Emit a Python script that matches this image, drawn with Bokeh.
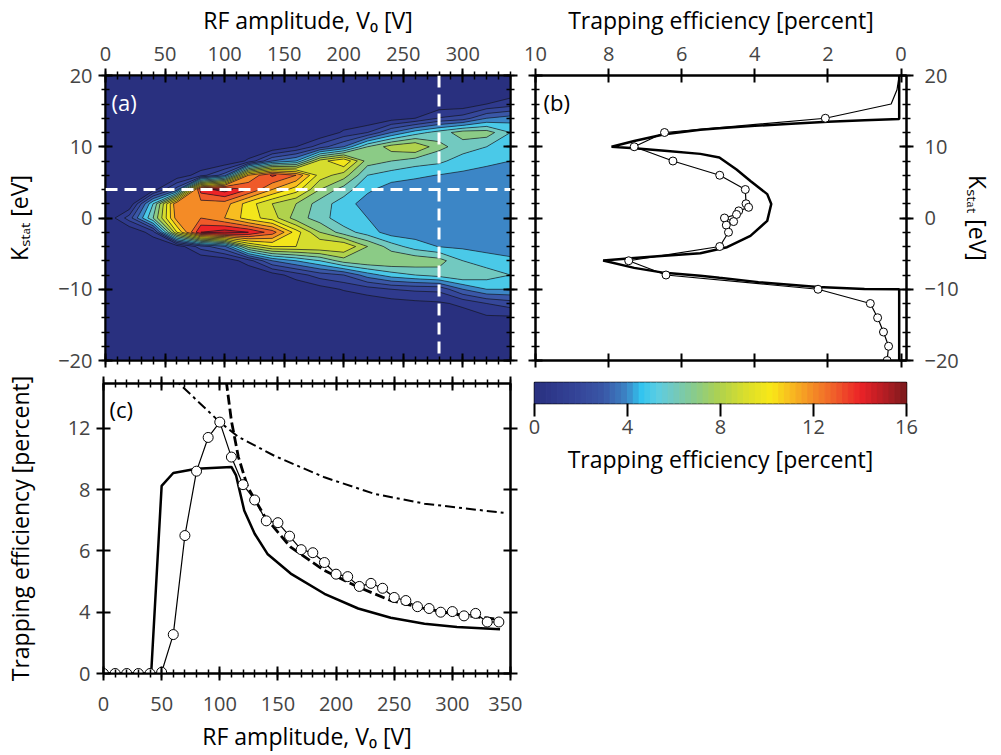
import numpy as np
from bokeh.plotting import figure
from bokeh.models import Range1d, LinearAxis, FixedTicker, Label, Span
from bokeh.layouts import column, row
from bokeh.embed import file_html
from bokeh.resources import INLINE

FONT = "Open Sans"

# ---------------- panel (a): trapping efficiency map [percent] ----------------
rf_grid = [0, 20, 40, 60, 80, 100, 120, 140, 160, 180, 200, 220, 240, 260, 280, 300, 320, 340]
k_grid = [20, 18, 16, 14, 12, 10, 8, 6, 4, 2, 0, -2, -4, -6, -8, -10, -12, -14, -16, -18, -20]
# one column per RF amplitude, K_stat running from +20 eV down to -20 eV
eff_map_columns = [
    [0] * 21,
    [0, 0, 0, 0, 0, 0, 0, 0, 0, 0, 2.5, 0, 0, 0, 0, 0, 0, 0, 0, 0, 0],
    [0, 0, 0, 0, 0, 0, 0, 0, 0.5, 6, 7, 1.5, 0, 0, 0, 0, 0, 0, 0, 0, 0],
    [0, 0, 0, 0, 0, 0, 0, 0.3, 3.5, 13, 12.5, 10, 0.3, 0, 0, 0, 0, 0, 0, 0, 0],
    [0, 0, 0, 0, 0, 0, 0, 1.5, 14.5, 12.5, 13, 15, 2.5, 0, 0, 0, 0, 0, 0, 0, 0],
    [0, 0, 0, 0, 0, 0, 0, 3.5, 15.5, 12.5, 12, 15.6, 3.8, 0.3, 0, 0, 0, 0, 0, 0, 0],
    [0, 0, 0, 0, 0, 0, 1.2, 12, 14, 10.5, 10.5, 15, 8.5, 1.5, 0, 0, 0, 0, 0, 0, 0],
    [0, 0, 0, 0, 0, 0, 4, 14.2, 12, 9, 9.5, 13.5, 10, 4, 0.5, 0, 0, 0, 0, 0, 0],
    [0, 0, 0, 0, 0, 1, 5, 13, 10.5, 8, 7.5, 10.5, 10, 5, 1.5, 0, 0, 0, 0, 0, 0],
    [0, 0, 0, 0, 0, 2.5, 9.5, 9.5, 8, 6.5, 6.5, 8, 10, 6, 2.5, 0.5, 0, 0, 0, 0, 0],
    [0, 0, 0, 0, 1.2, 4, 11, 8.5, 6.5, 5.5, 5.3, 6.5, 10, 7.5, 3, 1.1, 0, 0, 0, 0, 0],
    [0, 0, 0, 0, 2, 7, 7.5, 6, 5.2, 4.5, 5, 5.5, 8, 8, 4.5, 1.5, 0.3, 0, 0, 0, 0],
    [0, 0, 0, 0.5, 4, 8.5, 7, 5.5, 4.5, 4.2, 4.3, 4.5, 6.5, 8, 5.5, 2, 0.5, 0, 0, 0, 0],
    [0, 0, 0, 1, 5.5, 9, 6.5, 5.2, 4.4, 4.2, 4.5, 4.5, 5.5, 7.8, 6, 2.2, 0.7, 0.3, 0, 0, 0],
    [0.05, 0.11, 0.27, 2.07, 6.47, 7.3, 6.24, 4.96, 4.26, 4.24, 4.83, 4.72, 4.96, 7.45, 6.43, 2.27, 0.84, 0.64, 0.48, 0.34, 0.38],
    [0, 0, 0.3, 2.5, 7.5, 6.5, 5.5, 4.8, 4.3, 4.2, 4.5, 4.5, 4.8, 6, 7, 4, 1.2, 0.5, 0.3, 0.2, 0.2],
    [0, 0, 1, 4, 7.5, 6, 5.3, 4.5, 4.2, 4.1, 4.3, 4.2, 4.6, 5.5, 6.5, 5, 2, 0.8, 0.4, 0.2, 0.2],
    [0, 0.3, 1.5, 4.5, 6, 5.2, 5, 4.5, 4.3, 4.2, 4.2, 4.2, 4.5, 5.2, 6, 5, 2.5, 0.8, 0.4, 0.2, 0.2],
]
cut_voltage = 280   # V0 of the profile in panel (b)
cut_energy = 4      # K_stat marked by the horizontal cut

# ---------------- panel (b): profile at V0 = 280 V ----------------
profile_k = [20, 18, 16, 14, 12, 10, 8, 6, 4, 2, 1.5, 1, 0.5, 0, -0.5, -1, -2, -4,
             -6, -8, -10, -12, -14, -16, -18, -20]
profile_eff = [0.05, 0.11, 0.27, 2.07, 6.47, 7.30, 6.24, 4.96, 4.26, 4.24, 4.17, 4.44, 4.50,
               4.83, 4.58, 4.78, 4.72, 4.96, 7.45, 6.43, 2.27, 0.84, 0.64, 0.48, 0.34, 0.38]
model_k = [20, 13.9, 13.72, 13.5, 13.24, 12.93, 12.6, 12.4, 11.75, 10.8, 10.0,
           9.8, 9.45, 9.0, 8.5, 6.8, 5.2, 3.35, 1.96, -0.4, -2.5, -4.1, -4.95, -5.3, -5.6, -5.97,
           -7.0, -7.7, -8.1, -8.4, -9.0, -9.7, -9.95, -10.0, -20]
model_eff = [0.05, 0.05, 1.0, 2.0, 3.0, 4.0, 4.97, 5.49, 6.47, 7.3, 7.92,
             7.3, 6.47, 5.49, 4.97, 4.5, 4.12, 3.66, 3.55, 3.66, 4.12, 4.76, 5.49, 6.47, 7.3, 8.15,
             7.3, 6.47, 5.49, 4.97, 3.9, 2.27, 1.0, 0.05, 0.05]

# ---------------- panel (c): efficiency vs RF amplitude ----------------
meas_v = list(range(0, 341, 10))
meas_eff = [0, 0, 0, 0, 0, 0.08, 2.54, 6.5, 9.2, 11.4, 12.4, 10.12, 8.32, 7.66, 6.98, 6.92,
            6.48, 6.04, 5.94, 5.62, 5.24, 5.16, 4.84, 4.94, 4.78, 4.48, 4.38, 4.18, 4.12, 4.0,
            4.02, 3.76, 3.92, 3.36, 3.36]
sim_v = [0, 41, 50, 60, 80, 110, 114, 121, 130, 141, 161, 190, 219, 247, 276, 304, 341]
sim_eff = [0, 0, 8.24, 9.08, 9.36, 9.48, 8.92, 7.32, 6.56, 5.9, 5.26, 4.6, 4.12, 3.64, 3.24, 3.04, 2.88]
fit_v = [104, 110, 116, 124, 139, 161, 190, 219, 247, 276, 304, 341]
fit_eff = [16.0, 12.48, 10.12, 8.16, 7.1, 6.12, 5.36, 4.82, 4.38, 4.12, 3.84, 3.52]
limit_v = [55, 65, 100, 116, 147, 190, 233, 276, 344]
limit_eff = [15.6, 14.92, 12.4, 11.44, 10.2, 8.8, 7.86, 7.54, 7.24]
# the efficiency axis is printed with ticks 0, 4, 6, 8, 12 at equal spacing
eff_tick_labels = [0, 4, 6, 8, 12, 16]

# ---------------- axis titles ----------------
rf_title = "RF amplitude, V\u2080 [V]"
k_title = "K\u209b\u209c\u2090\u209c [eV]"
eff_title = "Trapping efficiency [percent]"

# ---------------- colour scale ----------------
cmap_values = [0, 1, 2, 3, 4, 4.6, 5.3, 6, 7, 8, 9, 10.2, 11, 12, 13, 14, 15, 16]
cmap_colors = ["#29307f", "#2f3a8d", "#35479a", "#3a57a7", "#3c86c6", "#31c4ef", "#5ccde3",
               "#72c9c0", "#8bcb86", "#b0d24d", "#d6dd2e", "#f9e817", "#f8bd20", "#f48b26",
               "#ef5a2a", "#ec2327", "#b91d24", "#7a1a1c"]


def cmap(v):
    rgb = [[int(c[i:i + 2], 16) for i in (1, 3, 5)] for c in cmap_colors]
    out = [np.interp(v, cmap_values, [c[k] for c in rgb]) for k in range(3)]
    return "#%02x%02x%02x" % tuple(int(round(x)) for x in out)


def eff_axis(p):
    """map percent onto the printed efficiency axis"""
    return np.interp(p, eff_tick_labels, np.arange(len(eff_tick_labels)))


def style_axis(ax, labels=True, standoff=6):
    ax.axis_line_width = 2
    ax.major_tick_line_width = 2
    ax.minor_tick_line_width = 1.5
    ax.major_tick_in = 7
    ax.major_tick_out = 7
    ax.minor_tick_in = 4
    ax.minor_tick_out = 4
    if labels:
        ax.major_label_text_font = FONT
        ax.major_label_text_font_size = "20px"
        ax.major_label_standoff = standoff
    else:
        ax.major_label_text_font_size = "0px"
        ax.major_label_text_color = None
        ax.major_label_standoff = 0


def set_title(ax, text, standoff):
    ax.axis_label = text
    ax.axis_label_text_font = FONT
    ax.axis_label_text_font_size = "23px"
    ax.axis_label_text_font_style = "normal"
    ax.axis_label_text_color = "black"
    ax.axis_label_standoff = standoff


def base_fig(**kw):
    p = figure(toolbar_location=None, output_backend="svg", frame_align=False, **kw)
    p.grid.visible = False
    p.outline_line_color = "black"
    p.outline_line_width = 2
    p.border_fill_color = "white"
    return p


k_ticker = FixedTicker(ticks=[-20, -10, 0, 10, 20], minor_ticks=list(range(-20, 21, 2)))

# ---------------- (a) ----------------
pa = base_fig(width=522, height=375, x_range=Range1d(0, 340), y_range=Range1d(-20, 20),
              x_axis_location="above", min_border_left=102, min_border_right=12,
              min_border_top=74, min_border_bottom=15)
pa.background_fill_color = cmap(0)
levels = [-0.5] + list(range(1, 17))
fills = [cmap(max(lv, 0)) for lv in levels[:-1]]
z = np.array(eff_map_columns, dtype=float).T[::-1]
pa.contour(x=np.array(rf_grid, float), y=np.array(k_grid[::-1], float), z=z, levels=levels,
           fill_color=fills, line_color="#111111", line_width=0.6)
pa.add_layout(Span(location=cut_voltage, dimension="height", line_color="white",
                   line_width=3, line_dash="12 7"))
pa.add_layout(Span(location=cut_energy, dimension="width", line_color="white",
                   line_width=3, line_dash="12 7"))
rf_ticker_a = FixedTicker(ticks=list(range(0, 301, 50)), minor_ticks=list(range(0, 341, 10)))
pa.xaxis.ticker = rf_ticker_a
pa.yaxis.ticker = k_ticker
style_axis(pa.xaxis[0], standoff=8)
style_axis(pa.yaxis[0])
set_title(pa.xaxis[0], rf_title, 8)
set_title(pa.yaxis[0], k_title, 20)
pa.add_layout(LinearAxis(ticker=rf_ticker_a), "below")
pa.add_layout(LinearAxis(ticker=k_ticker), "right")
style_axis(pa.below[0], labels=False)
style_axis(pa.right[0], labels=False)
pa.add_layout(Label(x=0, y=20, x_offset=6, y_offset=-26, text="(a)", text_color="white",
                    text_font=FONT, text_font_size="22px", text_baseline="middle"))

# ---------------- (b) ----------------
pb = base_fig(width=479, height=375, x_range=Range1d(10, -0.15), y_range=Range1d(-20, 20),
              x_axis_location="above", y_axis_location="right", min_border_left=13,
              min_border_right=95, min_border_top=74, min_border_bottom=15)
pb.line(model_eff, model_k, line_color="black", line_width=2.5)
pb.line(profile_eff, profile_k, line_color="black", line_width=1.2)
mk = [i for i, k in enumerate(profile_k) if k <= 14]
pb.scatter([profile_eff[i] for i in mk], [profile_k[i] for i in mk], marker="circle", size=8,
           fill_color="white", line_color="black", line_width=1)
eff_ticker_b = FixedTicker(ticks=[0, 2, 4, 6, 8, 10], minor_ticks=[])
pb.xaxis.ticker = eff_ticker_b
pb.yaxis.ticker = k_ticker
style_axis(pb.xaxis[0], standoff=8)
style_axis(pb.yaxis[0], standoff=11)
set_title(pb.xaxis[0], eff_title, 8)
set_title(pb.yaxis[0], k_title, 0)
pb.add_layout(LinearAxis(ticker=eff_ticker_b), "below")
pb.add_layout(LinearAxis(ticker=k_ticker), "left")
style_axis(pb.below[0], labels=False)
style_axis(pb.left[0], labels=False)
pb.add_layout(Label(x=10, y=20, x_offset=8, y_offset=-26, text="(b)", text_color="black",
                    text_font=FONT, text_font_size="22px", text_baseline="middle"))

# ---------------- (c) ----------------
pc = base_fig(width=522, height=380, x_range=Range1d(0, 350), y_range=Range1d(0, 4.73),
              min_border_left=102, min_border_right=12, min_border_top=8, min_border_bottom=82)
pc.line(limit_v, eff_axis(limit_eff), line_color="black", line_width=2, line_dash="10 4 3 4")
pc.line(fit_v, eff_axis(fit_eff), line_color="black", line_width=2.8, line_dash="10 4")
pc.line(sim_v, eff_axis(sim_eff), line_color="black", line_width=2.5)
pc.line(meas_v, eff_axis(meas_eff), line_color="black", line_width=1.2)
pc.scatter(meas_v, eff_axis(meas_eff), marker="circle", size=10, fill_color="white",
           line_color="black", line_width=1)
rf_ticker_c = FixedTicker(ticks=list(range(0, 351, 50)), minor_ticks=list(range(0, 351, 10)))
eff_pos = [float(v) for v in eff_axis(eff_tick_labels[:-1])]
eff_ticker_c = FixedTicker(ticks=eff_pos, minor_ticks=[])
pc.xaxis.ticker = rf_ticker_c
pc.yaxis.ticker = eff_ticker_c
pc.yaxis.major_label_overrides = {p: str(l) for p, l in zip(eff_pos, eff_tick_labels)}
style_axis(pc.xaxis[0], standoff=16)
style_axis(pc.yaxis[0])
set_title(pc.xaxis[0], rf_title, 6)
set_title(pc.yaxis[0], eff_title, 29)
pc.add_layout(LinearAxis(ticker=rf_ticker_c), "above")
pc.add_layout(LinearAxis(ticker=eff_ticker_c), "right")
style_axis(pc.above[0], labels=False)
style_axis(pc.right[0], labels=False)
pc.add_layout(Label(x=0, y=4.73, x_offset=6, y_offset=-25, text="(c)", text_color="black",
                    text_font=FONT, text_font_size="22px", text_baseline="middle"))

# ---------------- colour bar ----------------
pd_ = base_fig(width=479, height=380, x_range=Range1d(0, 16), y_range=Range1d(0, 1),
               min_border_left=12, min_border_right=95, min_border_top=7, min_border_bottom=352)
pd_.outline_line_width = 1.5
edges = np.linspace(0, 16, 65)
bar_colors = [cmap(v) for v in (edges[:-1] + edges[1:]) / 2]
pd_.quad(left=edges[:-1], right=edges[1:], bottom=0, top=1,
         fill_color=bar_colors, line_color=bar_colors, line_width=1)
pd_.yaxis.visible = False
pd_.xaxis.ticker = FixedTicker(ticks=[0, 4, 8, 12, 16], minor_ticks=[])
ax = pd_.xaxis[0]
ax.axis_line_color = None
ax.major_tick_in = 0
ax.major_tick_out = 13
ax.major_tick_line_width = 2
ax.minor_tick_line_color = None
ax.major_label_text_font = FONT
ax.major_label_text_font_size = "20px"
ax.major_label_standoff = 3
set_title(ax, eff_title, 6)

layout = column(row(pa, pb), row(pc, pd_))
open("out.html", "w").write(file_html(layout, INLINE))
